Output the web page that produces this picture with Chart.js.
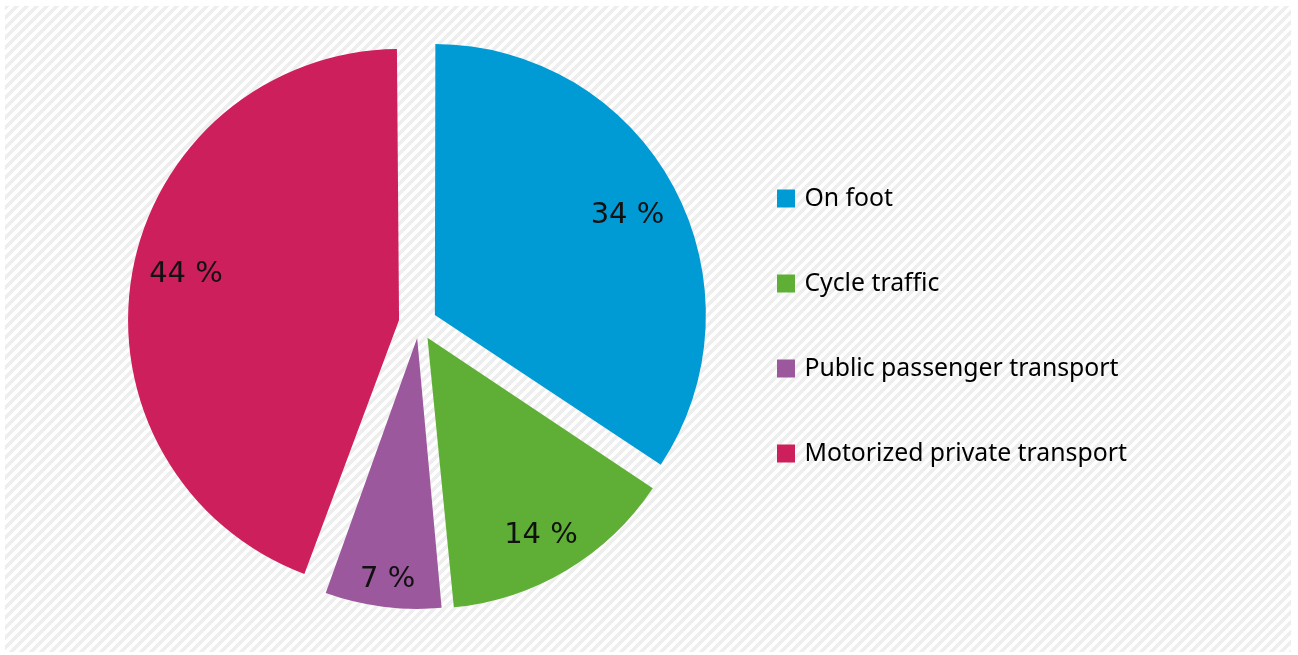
<!DOCTYPE html>
<html>
<head>
<meta charset="utf-8">
<script src="https://cdn.jsdelivr.net/npm/chart.js@4.4.1/dist/chart.umd.min.js"></script>
<style>
  html, body { margin: 0; padding: 0; background: #fff; }
  #wrap { position: relative; width: 1298px; height: 655px; background: #fff; overflow: hidden; }
  /* light diagonal stripes behind the chart */
  #hatch {
    position: absolute; left: 5px; top: 6px; right: 7px; bottom: 3px;
    background: repeating-linear-gradient(135deg, #eeeeee 0 3.5px, #ffffff 3.5px 7.07px);
  }
  #modal { position: absolute; left: 0; top: 0; }
</style>
</head>
<body>
<div id="wrap">
  <div id="hatch"></div>
  <canvas id="modal" width="1298" height="655"></canvas>
</div>
<script>
// Modal split of trips
const categories = ['On foot', 'Cycle traffic', 'Public passenger transport', 'Motorized private transport'];
const shares = [34, 14, 7, 44];
const sliceColors = ['#009bd5', '#5faf36', '#9c589d', '#cd1f5c'];

const FONT_FAMILY = '"Noto Sans", "Open Sans", sans-serif';
const LABEL_FAMILY = '"DejaVu Sans", sans-serif';
const LEGEND_SIZE = 24.8;
const LEGEND_PAD = 60.2;
// small box + thick same-colour outline: an 18px square that sits closer to its text
const LEGEND_BOX = 12;
const LEGEND_EDGE = 6;
const LEGEND_LEFT = 719.8;

// push each slice out of the centre (translation in px = offset / 4)
const sliceOffsets = [72, 66, 58, 81];
// where each percentage sits: share of the radius, and a small turn in degrees
const labelDistance = [0.80, 0.842, 0.898, 0.804];
const labelTurn = [0.8, 1.0, -0.3, 1.9];

// legend width, so the right padding leaves the legend where it should be
const measure = document.createElement('canvas').getContext('2d');
measure.font = `${LEGEND_SIZE}px ${FONT_FAMILY}`;
const widest = Math.max(...categories.map(c => measure.measureText(c).width));
const legendWidth = LEGEND_PAD + LEGEND_BOX + LEGEND_SIZE / 2 + widest + 10;
const padRight = Math.max(0, 1298 - LEGEND_LEFT - legendWidth);

// Chart.js grows an offset arc's radius a little; take that back so all slices match
const evenRadius = {
  id: 'evenRadius',
  afterDatasetUpdate(chart, args) {
    args.meta.data.forEach(arc => {
      const shift = (arc.options.offset || 0) / 4;
      const fix = 1 - Math.sin(Math.min(Math.PI, arc.circumference));
      arc.outerRadius -= shift * fix;
    });
  }
};

// percentage text inside each slice
const sliceLabels = {
  id: 'sliceLabels',
  afterDatasetsDraw(chart) {
    const meta = chart.getDatasetMeta(0);
    const baseRadius = meta.controller.outerRadius;
    const ctx = chart.ctx;
    ctx.save();
    ctx.font = `29px ${LABEL_FAMILY}`;
    ctx.fillStyle = '#111111';
    ctx.textAlign = 'center';
    ctx.textBaseline = 'middle';
    meta.data.forEach((arc, i) => {
      const mid = (arc.startAngle + arc.endAngle) / 2 + labelTurn[i] * Math.PI / 180;
      const d = (arc.options.offset || 0) / 4 + labelDistance[i] * baseRadius;
      ctx.fillText(`${shares[i]} %`, arc.x + Math.cos(mid) * d, arc.y + Math.sin(mid) * d);
    });
    ctx.restore();
  }
};

new Chart(document.getElementById('modal'), {
  type: 'pie',
  data: {
    labels: categories,
    datasets: [{
      data: shares,
      backgroundColor: sliceColors,
      borderWidth: 0,
      offset: sliceOffsets,
      hoverOffset: 0
    }]
  },
  options: {
    responsive: false,
    animation: false,
    events: [],
    radius: 271,
    layout: { padding: { left: 838 - LEGEND_LEFT, top: 10, bottom: 18, right: padRight } },
    plugins: {
      tooltip: { enabled: false },
      legend: {
        position: 'right',
        align: 'center',
        // empty title only nudges the legend items down a little
        title: { display: true, text: '', padding: 0, font: { size: 5, lineHeight: 1 } },
        labels: {
          boxWidth: LEGEND_BOX,
          boxHeight: LEGEND_BOX,
          padding: LEGEND_PAD,
          color: '#000000',
          font: { family: FONT_FAMILY, size: LEGEND_SIZE },
          generateLabels(chart) {
            const items = Chart.overrides.doughnut.plugins.legend.labels.generateLabels(chart);
            items.forEach(item => {
              item.lineWidth = LEGEND_EDGE;
              item.strokeStyle = item.fillStyle;
            });
            return items;
          }
        }
      }
    }
  },
  plugins: [evenRadius, sliceLabels]
});
</script>
</body>
</html>
